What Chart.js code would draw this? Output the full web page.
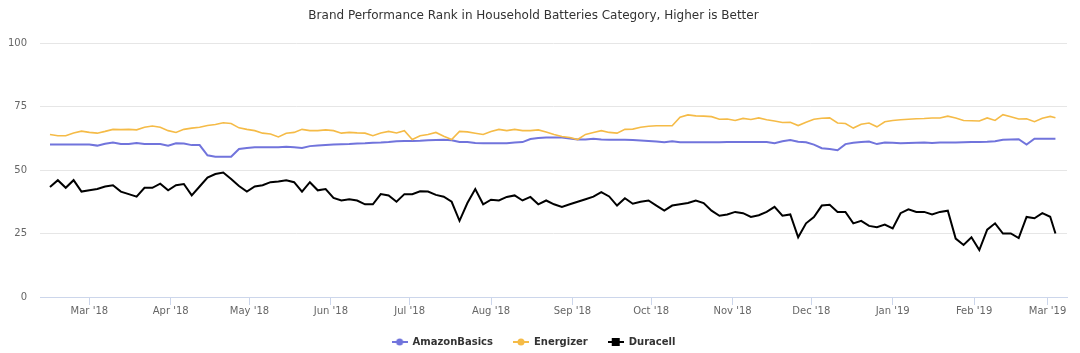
<!DOCTYPE html>
<html>
<head>
<meta charset="utf-8">
<title>Brand Performance Rank</title>
<script src="https://cdn.jsdelivr.net/npm/chart.js@4.4.1/dist/chart.umd.min.js"></script>
<style>
  html, body { margin: 0; padding: 0; background: #fff; }
  #wrap { width: 1080px; height: 353px; }
</style>
</head>
<body>
<div id="wrap"><canvas id="chart" width="1080" height="353"></canvas></div>
<script>
// day 0 = 14 Feb 2018, one reading every 3 days
const days = [
  0, 3, 6, 9, 12, 15, 18, 21, 24, 27,
  30, 33, 36, 39, 42, 45, 48, 51, 54, 57,
  60, 63, 66, 69, 72, 75, 78, 81, 84, 87,
  90, 93, 96, 99, 102, 105, 108, 111, 114, 117,
  120, 123, 126, 129, 132, 135, 138, 141, 144, 147,
  150, 153, 156, 159, 162, 165, 168, 171, 174, 177,
  180, 183, 186, 189, 192, 195, 198, 201, 204, 207,
  210, 213, 216, 219, 222, 225, 228, 231, 234, 237,
  240, 243, 246, 249, 252, 255, 258, 261, 264, 267,
  270, 273, 276, 279, 282, 285, 288, 291, 294, 297,
  300, 303, 306, 309, 312, 315, 318, 321, 324, 327,
  330, 333, 336, 339, 342, 345, 348, 351, 354, 357,
  360, 363, 366, 369, 372, 375, 378, 381, 383
];

const amazonBasics = [
  60, 60, 60, 60, 60, 60, 59.6, 60.3, 60.8, 60.2,
  60.2, 60.6, 60.2, 60.2, 60.2, 59.6, 60.5, 60.4, 59.8, 59.8,
  55.8, 55.2, 55.2, 55.2, 58.3, 58.7, 59, 59, 59, 59,
  59.2, 59, 58.7, 59.4, 59.6, 59.8, 60, 60.1, 60.2, 60.4,
  60.5, 60.7, 60.8, 61, 61.3, 61.4, 61.4, 61.5, 61.7, 61.8,
  61.9, 61.7, 61, 61, 60.6, 60.5, 60.5, 60.5, 60.5, 60.8,
  61, 62.2, 62.6, 62.8, 62.8, 62.8, 62.4, 62, 62, 62.3,
  62, 61.9, 61.9, 61.9, 61.8, 61.6, 61.4, 61.2, 60.9, 61.3,
  60.9, 60.9, 60.9, 60.9, 60.9, 60.9, 61, 61, 61, 61,
  61, 61, 60.5, 61.3, 61.8, 61.1, 60.9, 60, 58.6, 58.3,
  57.8, 60.2, 60.7, 61, 61.2, 60.2, 60.8, 60.7, 60.5, 60.6,
  60.7, 60.8, 60.6, 60.8, 60.8, 60.8, 60.9, 61, 61, 61.1,
  61.3, 61.9, 62, 62.1, 60, 62.3, 62.3, 62.3, 62.3
];

const energizer = [
  64, 63.5, 63.5, 64.6, 65.3, 64.8, 64.5, 65.2, 66, 65.9,
  66, 65.8, 66.8, 67.3, 66.8, 65.5, 64.8, 66, 66.5, 66.8,
  67.5, 67.9, 68.6, 68.3, 66.6, 66, 65.5, 64.5, 64.2, 63,
  64.5, 64.8, 66, 65.5, 65.5, 65.8, 65.5, 64.5, 64.8, 64.6,
  64.5, 63.5, 64.6, 65.2, 64.6, 65.5, 62, 63.5, 64, 64.8,
  63.3, 62, 65.2, 65, 64.5, 64, 65.2, 66, 65.5, 66,
  65.5, 65.5, 65.8, 65, 64, 63.2, 62.8, 62, 64, 64.8,
  65.5, 64.8, 64.5, 66, 66.1, 66.8, 67.2, 67.4, 67.4, 67.4,
  70.8, 71.7, 71.3, 71.2, 71, 70, 70.1, 69.5, 70.3, 69.9,
  70.5, 69.8, 69.3, 68.7, 68.8, 67.5, 68.8, 70, 70.4, 70.5,
  68.5, 68.3, 66.5, 68, 68.5, 67, 69, 69.5, 69.8, 70,
  70.2, 70.3, 70.5, 70.5, 71.2, 70.5, 69.5, 69.4, 69.3, 70.5,
  69.5, 71.8, 71, 70.1, 70.2, 69, 70.4, 71.1, 70.6
];

const duracell = [
  43.3, 46, 43, 46, 41.5, 42, 42.5, 43.5, 44, 41.5,
  40.5, 39.5, 43, 43, 44.6, 42, 44, 44.5, 40, 43.5,
  47, 48.4, 49, 46.5, 43.7, 41.5, 43.5, 44, 45.2, 45.5,
  46, 45.2, 41.5, 45.2, 42, 42.5, 39, 38, 38.5, 38,
  36.5, 36.5, 40.5, 40, 37.5, 40.5, 40.5, 41.6, 41.5, 40.2,
  39.5, 37.5, 30, 37, 42.5, 36.5, 38.3, 38, 39.4, 40,
  38, 39.4, 36.5, 38, 36.5, 35.5, 36.5, 37.5, 38.5, 39.5,
  41.3, 39.6, 36, 38.9, 36.7, 37.5, 38, 36, 34, 36,
  36.5, 37, 38, 37, 34, 32, 32.5, 33.5, 33, 31.5,
  32.2, 33.5, 35.5, 32, 32.5, 23.5, 29, 31.5, 36, 36.3,
  33.5, 33.5, 29, 30, 28, 27.5, 28.5, 27, 33, 34.5,
  33.5, 33.5, 32.5, 33.5, 34, 23, 20.5, 23.5, 18.5, 26.5,
  29, 25, 25, 23.2, 31.5, 31, 33, 31.6, 25
];

// month starts, counted from 14 Feb 2018
const monthDays = [15, 46, 76, 107, 137, 168, 199, 229, 260, 290, 321, 352, 380];
const monthLabels = ["Mar '18", "Apr '18", "May '18", "Jun '18", "Jul '18", "Aug '18",
  "Sep '18", "Oct '18", "Nov '18", "Dec '18", "Jan '19", "Feb '19", "Mar '19"];

const yTicks = [0, 25, 50, 75, 100];

// legend symbol: short line with a marker in the middle
function legendSymbol(color, square) {
  const c = document.createElement('canvas');
  c.width = 16;
  c.height = 10;
  const g = c.getContext('2d');
  g.strokeStyle = color;
  g.lineWidth = 2;
  g.beginPath();
  g.moveTo(0, 5);
  g.lineTo(16, 5);
  g.stroke();
  g.fillStyle = color;
  if (square) {
    g.fillRect(4, 1, 8, 8);
  } else {
    g.beginPath();
    g.arc(8, 5, 3.5, 0, Math.PI * 2);
    g.fill();
  }
  return c;
}

function toPoints(values) {
  return days.map((d, i) => ({ x: d, y: values[i] }));
}

const FONT = "'DejaVu Sans', sans-serif";

new Chart(document.getElementById('chart'), {
  type: 'line',
  data: {
    datasets: [
      {
        label: 'AmazonBasics',
        data: toPoints(amazonBasics),
        borderColor: '#7174dc',
        borderWidth: 2,
        pointRadius: 0,
        pointStyle: legendSymbol('#7174dc', false),
        tension: 0,
        order: 3
      },
      {
        label: 'Energizer',
        data: toPoints(energizer),
        borderColor: '#f5bb47',
        borderWidth: 1.6,
        pointRadius: 0,
        pointStyle: legendSymbol('#f5bb47', false),
        tension: 0,
        order: 2
      },
      {
        label: 'Duracell',
        data: toPoints(duracell),
        borderColor: '#000000',
        borderWidth: 2,
        pointRadius: 0,
        pointStyle: legendSymbol('#000000', true),
        tension: 0,
        order: 1
      }
    ]
  },
  options: {
    responsive: false,
    devicePixelRatio: 1,
    animation: false,
    layout: { padding: { left: 0, right: 13, top: 0, bottom: -4 } },
    plugins: {
      tooltip: { enabled: false },
      title: {
        display: true,
        text: 'Brand Performance Rank in Household Batteries Category, Higher is Better',
        color: '#333333',
        font: { family: FONT, size: 12, weight: 'normal' },
        padding: { top: 9, bottom: 19.6 }
      },
      legend: {
        position: 'bottom',
        labels: {
          usePointStyle: true,
          pointStyleWidth: 16,
          boxHeight: 11,
          padding: 20,
          color: '#333333',
          font: { family: FONT, size: 10, weight: 'bold' },
          sort: (a, b) => a.datasetIndex - b.datasetIndex
        }
      }
    },
    scales: {
      x: {
        type: 'linear',
        min: -3.8,
        max: 387.4,
        afterBuildTicks: s => { s.ticks = monthDays.map(v => ({ value: v })); },
        ticks: {
          autoSkip: false,
          maxRotation: 0,
          padding: 0,
          color: '#666666',
          font: { family: FONT, size: 10 },
          callback: (v, i) => monthLabels[i]
        },
        grid: { drawOnChartArea: false, drawTicks: true, tickLength: 8, color: '#ccd6eb' },
        border: { color: '#ccd6eb', width: 1 }
      },
      y: {
        min: 0,
        max: 100,
        afterBuildTicks: s => { s.ticks = yTicks.map(v => ({ value: v })); },
        afterFit: s => { s.width = 40; },
        ticks: {
          padding: 13,
          color: '#666666',
          font: { family: FONT, size: 10 }
        },
        grid: { drawTicks: false, color: '#e6e6e6' },
        border: { display: false }
      }
    }
  }
});
</script>
</body>
</html>
